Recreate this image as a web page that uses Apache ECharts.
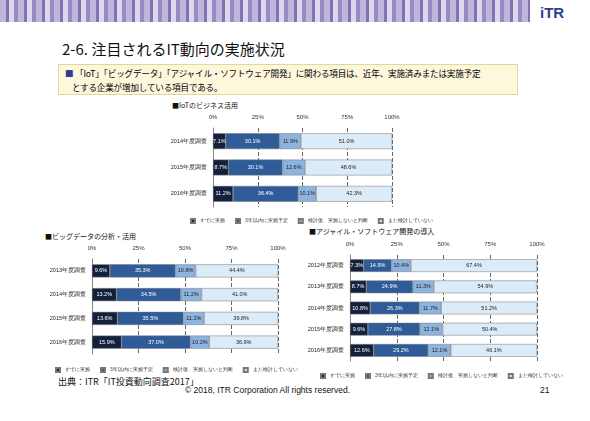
<!DOCTYPE html>
<html><head><meta charset="utf-8">
<script src="https://cdn.jsdelivr.net/npm/echarts@6/dist/echarts.min.js"></script>
<style>
body{margin:0;width:590px;height:421px;background:#fff;font-family:"Noto Sans CJK JP",sans-serif;position:relative;overflow:hidden}
#band{position:absolute;left:0;top:0;width:530px;height:22px;background:repeating-linear-gradient(90deg,#b7a8d6 0 6px,#6a5aa8 6px 9px,#d8cfe9 9px 14px,#8676bb 14px 18px);opacity:.85}
#logo{position:absolute;left:540px;top:4px;font:bold 15px "Liberation Sans";color:#2a3f8f}
#title{position:absolute;left:62px;top:38px;font-size:15px;color:#111}
#box{position:absolute;left:58px;top:64px;width:460px;height:31px;background:#fdf7dc;border:1px solid #e4d69a;font-size:8.6px;line-height:14px;padding:1px 6px;box-sizing:border-box;white-space:nowrap;letter-spacing:-0.2px}
.t{position:absolute;font-size:7px;color:#111;white-space:nowrap}
#chart{position:absolute;left:0;top:0;width:590px;height:421px}
</style></head><body>
<div id="band"></div><div id="logo">iTR</div>
<div id="title">2-6. 注目されるIT動向の実施状況</div>
<div id="box"><span style="color:#2a3f8f">■</span> 「IoT」「ビッグデータ」「アジャイル・ソフトウェア開発」に関わる項目は、近年、実施済みまたは実施予定<br>&nbsp;&nbsp;&nbsp;&nbsp;とする企業が増加している項目である。</div>
<div class="t" style="left:172px;top:100px">■IoTのビジネス活用</div>
<div class="t" style="left:45px;top:231px">■ビッグデータの分析・活用</div>
<div class="t" style="left:309px;top:226px">■アジャイル・ソフトウェア開発の導入</div>
<div class="t" style="left:58px;top:375px;font-size:9px">出典：ITR「IT投資動向調査2017」</div>
<div class="t" style="left:185px;top:385px;font:8.5px 'Liberation Sans'">© 2018, ITR Corporation  All rights reserved.</div>
<div class="t" style="left:540px;top:385px;font:8.5px 'Liberation Sans'">21</div>
<div id="chart"></div>
<script>
const legendNames = ['すでに実施', '3年以内に実施予定', '検討後、実施しないと判断', 'まだ検討していない'];
const colors = ['#14213d', '#2f5b98', '#8db3df', '#dcebf8'];

const iotYears = ['2014年度調査', '2015年度調査', '2016年度調査'];
const iotVals = [[7.1, 8.7, 11.2], [30.1, 30.1, 36.4], [11.9, 12.6, 10.1], [51.0, 48.6, 42.3]];

const bdYears = ['2013年度調査', '2014年度調査', '2015年度調査', '2016年度調査'];
const bdVals = [[9.6, 13.2, 13.6, 15.9], [35.3, 34.5, 35.5, 37.0], [10.8, 11.2, 11.2, 10.2], [44.4, 41.0, 39.8, 36.9]];

const agYears = ['2012年度調査', '2013年度調査', '2014年度調査', '2015年度調査', '2016年度調査'];
const agVals = [[7.3, 8.7, 10.8, 9.6, 12.6], [14.9, 24.9, 26.3, 27.8, 29.2], [10.4, 11.3, 11.7, 12.1, 12.1], [67.4, 54.9, 51.2, 50.4, 46.1]];

const tickLabels = ['0%', '25%', '50%', '75%', '100%'];

const grids = [
    { left: 213, width: 179, top: 128, height: 79 },
    { left: 92, width: 186, top: 259, height: 95 },
    { left: 350, width: 187, top: 255, height: 106 }
];
const sets = [[iotYears, iotVals, 0.4], [bdYears, bdVals, 0.45], [agYears, agVals, 0.4]];

const xAxis = [], yAxis = [], series = [], legend = [];
sets.forEach(([years, vals, gap], g) => {
    xAxis.push({
        gridIndex: g, type: 'value', min: 0, max: 100, interval: 25, position: 'top',
        axisLabel: { fontSize: 6, color: '#333', formatter: v => tickLabels[v / 25] },
        splitLine: { lineStyle: { type: 'dashed', color: '#666' } },
        axisLine: { show: false }, axisTick: { show: false }
    });
    yAxis.push({
        gridIndex: g, type: 'category', data: years, inverse: true,
        axisLabel: { fontSize: 5.5, color: '#222', margin: 6 },
        axisLine: { show: true, lineStyle: { color: '#888' } }, axisTick: { show: false }
    });
    vals.forEach((v, i) => {
        series.push({
            name: legendNames[i], type: 'bar', stack: 's' + g, xAxisIndex: g, yAxisIndex: g,
            data: v, barCategoryGap: (gap * 100) + '%',
            itemStyle: { color: colors[i], borderColor: '#777', borderWidth: 0.5 },
            label: { show: true, fontSize: 5.5, formatter: p => p.value.toFixed(1) + '%',
                color: i < 2 ? '#fff' : '#222' }
        });
    });
});
const legendPos = [[185, 213], [50, 362], [315, 368]];
legendPos.forEach(([l, t]) => legend.push({
    left: l, top: t, itemWidth: 4, itemHeight: 4, itemGap: 10, icon: 'rect',
    textStyle: { fontSize: 5, color: '#333' }, data: legendNames
}));

const chart = echarts.init(document.getElementById('chart'));
chart.setOption({ color: colors, animation: false, grid: grids, xAxis, yAxis, series, legend });
</script></body></html>
